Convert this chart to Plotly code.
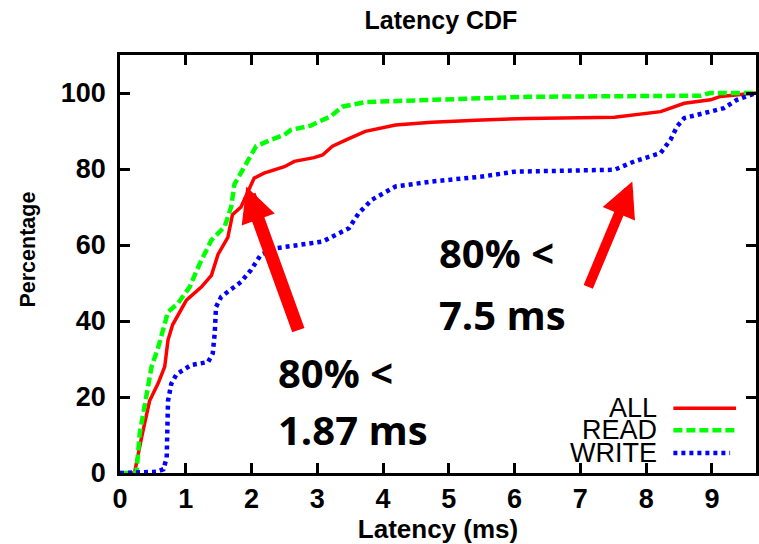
import plotly.graph_objects as go

# ---- data ----
all_x = [0, 0.22, 0.33, 0.45, 0.58, 0.68, 0.73, 0.80, 1.01, 1.24, 1.39, 1.49, 1.64, 1.71, 1.84, 1.94,
         2.04, 2.19, 2.50, 2.65, 2.95, 3.08, 3.23, 3.48, 3.73, 4.19, 4.74, 5.5, 6.2, 7.52, 8.22, 8.58,
         8.98, 9.13, 9.67]
all_y = [0, 0, 9.5, 19, 23.6, 28, 35, 39, 45.5, 49, 52, 57.5, 62, 68, 70, 73.6,
         77.6, 78.9, 80.6, 82, 83, 83.7, 86, 88, 89.9, 91.6, 92.3, 92.9, 93.3, 93.6, 95.1, 97.3,
         98.2, 99.1, 100]

read_x = [0, 0.25, 0.30, 0.40, 0.48, 0.58, 0.68, 0.73, 0.88, 1.06, 1.21, 1.31, 1.39, 1.59, 1.69, 1.74,
          1.84, 1.97, 2.07, 2.30, 2.50, 2.60, 2.90, 3.03, 3.20, 3.38, 3.73, 4.74, 6.2, 8.0, 8.83,
          8.97, 9.67]
read_y = [0, 0, 10.4, 20, 28, 33, 39.4, 42.4, 44.6, 49, 55, 58.6, 61.3, 64.8, 70, 76,
          78.9, 83, 86, 87.7, 89, 90.3, 91.4, 92.5, 93.8, 96.4, 97.6, 98.2, 99, 99.2, 99.3,
          100, 100]

write_x = [0, 0.55, 0.66, 0.71, 0.73, 0.78, 0.86, 1.08, 1.34, 1.41, 1.44, 1.46, 1.54, 1.66, 1.84, 1.99,
           2.14, 2.35, 2.95, 3.08, 3.48, 3.63, 3.83, 4.19, 4.74, 5.5, 6.0, 7.52, 7.82, 8.22, 8.37,
           8.47, 8.58, 8.88, 9.18, 9.38, 9.67]
write_y = [0, 0.3, 1, 4, 19, 23.5, 26, 28.4, 29.2, 31.5, 36.7, 43.7, 46.4, 48, 50.3, 53.4,
           57.4, 59.1, 60.4, 60.9, 64.4, 68.4, 71.9, 75.4, 76.7, 78, 79.3, 79.8, 82, 84.2, 87.7,
           91.2, 93.4, 94.7, 96, 98.2, 100]

x_ticks = [0, 1, 2, 3, 4, 5, 6, 7, 8, 9]
y_ticks = [0, 20, 40, 60, 80, 100]

series_names = ["ALL", "READ", "WRITE"]
series_colors = ["#ff0000", "#00ff00", "#0000ff"]
series_dash = ["solid", "9px,4px", "4px,4px"]
series_width = [3.5, 4.5, 4.5]

note1_lines = ["80% <", "1.87 ms"]
note2_lines = ["80% <", "7.5 ms"]

AX_FONT = "Liberation Sans, Arial, sans-serif"
AXB = dict(family=AX_FONT, color="black", weight="bold")

fig = go.Figure()
for name, xs, ys, c, d, w in zip(series_names, [all_x, read_x, write_x], [all_y, read_y, write_y],
                                 series_colors, series_dash, series_width):
    fig.add_trace(go.Scatter(x=xs, y=ys, mode="lines", name=name, showlegend=False,
                             line=dict(color=c, dash=d, width=w)))

fig.update_layout(
    width=759, height=544,
    margin=dict(l=120, r=0, t=55, b=71),
    paper_bgcolor="white", plot_bgcolor="white",
    title=dict(text="Latency CDF", x=0.5047, xref="paper", xanchor="center",
               y=1 - 20.5 / 544, yanchor="middle",
               font=dict(AXB, size=25)),
    xaxis=dict(range=[0, 9.67], tickvals=x_ticks, ticks="inside", ticklen=10, tickwidth=2.5,
               tickcolor="black", showline=True, linecolor="black", linewidth=2.5, mirror="ticks",
               showgrid=False, zeroline=False,
               tickfont=dict(AXB, size=27),
               title=dict(text="Latency (ms)", font=dict(AXB, size=26), standoff=4)),
    yaxis=dict(range=[0, 110], tickvals=y_ticks, ticks="inside", ticklen=10, tickwidth=2.5,
               tickcolor="black", showline=True, linecolor="black", linewidth=2.5, mirror="ticks",
               showgrid=False, zeroline=False, ticklabelstandoff=6,
               tickfont=dict(AXB, size=27)),
)

fig.add_annotation(text="Percentage", xref="paper", yref="paper", x=(28 - 120) / 639,
                   y=(472.7 - 249) / 417.7, xanchor="center", yanchor="middle", textangle=-90,
                   showarrow=False, font=dict(AXB, size=21.5))

BOLD = dict(family="Open Sans, sans-serif", size=40, color="black", weight="bold")
for lines, x0, ys in [(note1_lines, 2.37, [26.45, 11.5]), (note2_lines, 4.82, [57.9, 41.8])]:
    for t, yy in zip(lines, ys):
        fig.add_annotation(text=t, x=x0, y=yy, xref="x", yref="y", xanchor="left",
                           yanchor="middle", showarrow=False, font=BOLD)

for (tx, ty, sx, sy, w, s) in [(1.92, 75.4, 2.72, 37.2, 13, 0.54), (7.79, 76.7, 7.11, 48.6, 10, 0.7)]:
    fig.add_annotation(text="", x=tx, y=ty, ax=sx, ay=sy, xref="x", yref="y", axref="x", ayref="y",
                       showarrow=True, arrowhead=2, arrowsize=s, arrowwidth=w, arrowcolor="#ff0000",
                       standoff=0)

leg_y = [408, 430, 452.7]
leg_x1 = [739, 739, 733]
for name, c, d, w, py, x1 in zip(series_names, series_colors, series_dash, series_width, leg_y, leg_x1):
    yy = (472.7 - py) / 417.7
    fig.add_annotation(text=name, xref="paper", yref="paper", x=(661.7 - 120) / 639, y=yy,
                       xanchor="right", yanchor="middle", showarrow=False,
                       font=dict(family=AX_FONT, size=27, color="black"))
    fig.add_shape(type="line", xref="paper", yref="paper", x0=(676 - 120) / 639, x1=(x1 - 120) / 639,
                  y0=yy, y1=yy, line=dict(color=c, dash=d, width=w))

fig.write_html("out.html")
